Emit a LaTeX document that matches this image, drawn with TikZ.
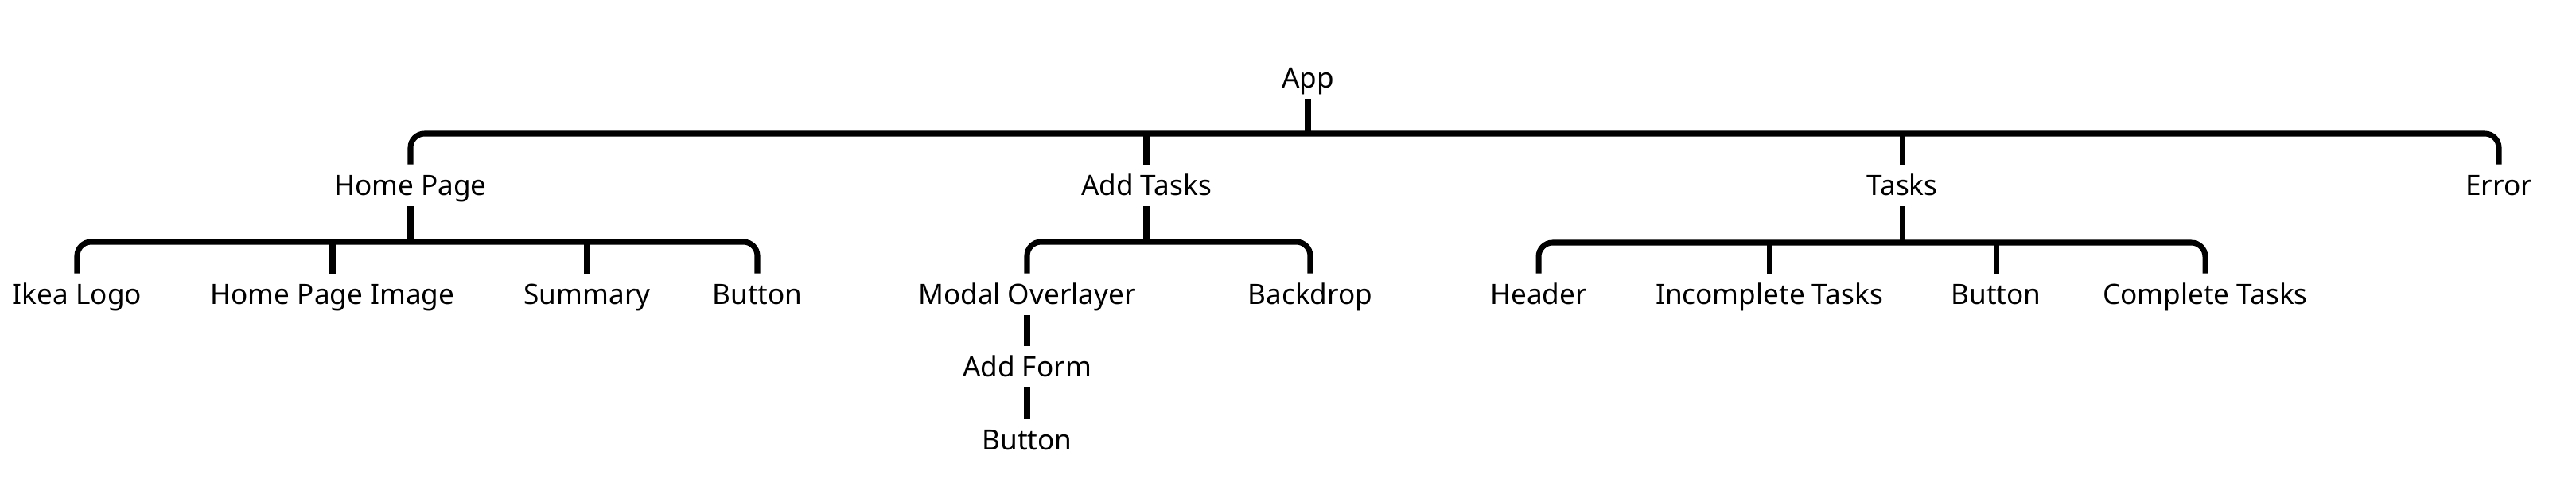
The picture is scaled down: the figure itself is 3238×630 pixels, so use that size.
\documentclass[tikz,border=0pt]{standalone}
\usepackage{fontspec}
\setmainfont{Noto Sans}
\usetikzlibrary{positioning,calc}

\begin{document}
\begin{tikzpicture}[x=0.01cm,y=-0.01cm,
  every node/.style={draw=none,inner xsep=2pt,inner ysep=0.13cm,text height=0.714em,text depth=0pt,font=\fontsize{10pt}{12pt}\selectfont},
  link/.style={line width=2pt,rounded corners=5pt}]
  \useasboundingbox (0,0) rectangle (3238,630);
  \foreach \n/\x/\y/\lab in {app/1644/98/App, hp/516/233/Home Page, at/1441/233/Add Tasks, tk/2391/233/Tasks, err/3141/233/Error,
    ikea/97/370/Ikea Logo, hpimg/418/370/Home Page Image, summ/738/370/Summary, hpbtn/952/370/Button,
    modal/1291/370/Modal Overlayer, back/1647/370/Backdrop, form/1291/461/Add Form, fbtn/1291/553/Button,
    head/1934/370/Header, inc/2224/370/Incomplete Tasks, tbtn/2509/370/Button, comp/2772/370/Complete Tasks}{
    \node (\n) at (\x,\y) {\lab};
  }
  \coordinate (bar0) at (1644,168);
  \coordinate (bar1) at (516,304);
  \coordinate (bar2) at (1441,304);
  \coordinate (bar3) at (2391,305);

  \draw[link] (hp.north) |- (bar0) -| (err.north);
  \draw[link] (app.south) -- (bar0);
  \foreach \n in {at,tk}{
    \draw[link] (\n.north) -- (\n.north |- bar0);
  }

  \draw[link] (ikea.north) |- (bar1) -| (hpbtn.north);
  \draw[link] (hp.south) -- (bar1);
  \foreach \n in {hpimg,summ}{
    \draw[link] (\n.north) -- (\n.north |- bar1);
  }

  \draw[link] (modal.north) |- (bar2) -| (back.north);
  \draw[link] (at.south) -- (bar2);
  \draw[link] (modal.south) -- (form.north);
  \draw[link] (form.south) -- (fbtn.north);

  \draw[link] (head.north) |- (bar3) -| (comp.north);
  \draw[link] (tk.south) -- (bar3);
  \foreach \n in {inc,tbtn}{
    \draw[link] (\n.north) -- (\n.north |- bar3);
  }
\end{tikzpicture}
\end{document}
